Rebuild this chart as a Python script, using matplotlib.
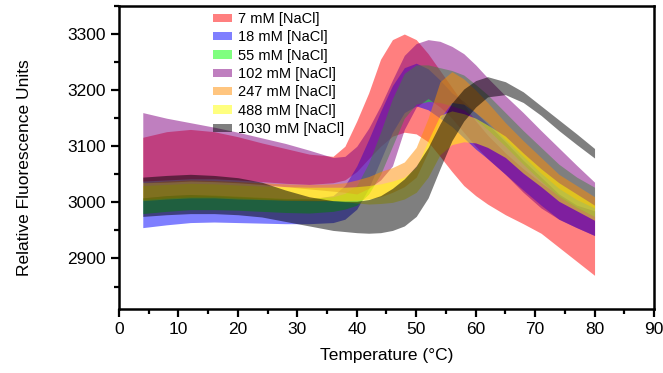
import matplotlib
matplotlib.use("Agg")
import matplotlib.pyplot as plt
from matplotlib.patches import Patch
from matplotlib.ticker import MultipleLocator

plt.rcParams['font.family'] = ['Liberation Sans', 'DejaVu Sans']

temps = [4, 8, 12, 16, 20, 24, 28, 32, 36, 38, 40, 42, 44, 46, 48, 50,
         52, 54, 56, 58, 60, 62, 65, 68, 71, 74, 77, 80]

labels = ["7 mM [NaCl]", "18 mM [NaCl]", "55 mM [NaCl]", "102 mM [NaCl]",
          "247 mM [NaCl]", "488 mM [NaCl]", "1030 mM [NaCl]"]

lower_7 = [3038, 3040, 3042, 3042, 3040, 3037, 3034, 3032, 3035, 3040, 3055, 3078,
           3100, 3118, 3125, 3122, 3108, 3082, 3055, 3030, 3012, 2997, 2978, 2962,
           2945, 2920, 2895, 2870]
upper_7 = [3116, 3126, 3130, 3126, 3117, 3106, 3096, 3086, 3082, 3100, 3145, 3195,
           3255, 3290, 3300, 3290, 3265, 3235, 3205, 3175, 3145, 3120, 3088, 3060,
           3035, 3012, 2992, 2975]

lower_18 = [2955, 2960, 2964, 2965, 2964, 2963, 2962, 2962, 2964, 2970, 2988, 3025,
            3075, 3125, 3160, 3172, 3165, 3150, 3135, 3115, 3095, 3078, 3050, 3022,
            2995, 2970, 2955, 2941]
upper_18 = [3008, 3012, 3014, 3012, 3010, 3008, 3006, 3006, 3012, 3030, 3065, 3112,
            3162, 3208, 3240, 3248, 3238, 3218, 3195, 3180, 3160, 3140, 3108, 3075,
            3045, 3015, 2995, 2985]

lower_55 = [2980, 2984, 2987, 2987, 2986, 2984, 2982, 2981, 2984, 2988, 2995, 3015,
            3050, 3100, 3150, 3175, 3180, 3178, 3172, 3165, 3148, 3130, 3100, 3068,
            3038, 3010, 2990, 2975]
upper_55 = [3008, 3012, 3014, 3013, 3011, 3009, 3007, 3007, 3010, 3016, 3030, 3070,
            3125, 3185, 3230, 3245, 3245, 3240, 3235, 3227, 3210, 3192, 3160, 3128,
            3098, 3068, 3045, 3027]

lower_102 = [3035, 3036, 3038, 3037, 3035, 3032, 3028, 3024, 3020, 3018, 3015, 3025,
             3040, 3065, 3130, 3170, 3185, 3170, 3150, 3125, 3100, 3078, 3050, 3018,
             2990, 2970, 2955, 2941]
upper_102 = [3160, 3150, 3142, 3134, 3125, 3115, 3105, 3093, 3080, 3082, 3100, 3132,
             3172, 3218, 3262, 3283, 3290, 3287, 3278, 3265, 3245, 3222, 3190, 3160,
             3128, 3097, 3066, 3036]

lower_247 = [3005, 3008, 3010, 3010, 3008, 3006, 3004, 3003, 3003, 3003, 3004, 3006,
             3010, 3018, 3028, 3045, 3090, 3150, 3178, 3175, 3160, 3143, 3112, 3082,
             3052, 3025, 3005, 2990]
upper_247 = [3035, 3038, 3040, 3039, 3037, 3035, 3033, 3032, 3033, 3035, 3040, 3046,
             3055, 3062, 3072, 3098, 3150, 3215, 3233, 3220, 3200, 3178, 3142, 3110,
             3080, 3050, 3030, 3010]

lower_488 = [3003, 3006, 3008, 3008, 3006, 3005, 3004, 3004, 3003, 3001, 2999, 2997,
             2998, 3000, 3006, 3018, 3045, 3085, 3103, 3108, 3106, 3098, 3080, 3052,
             3028, 3002, 2985, 2968]
upper_488 = [3030, 3032, 3034, 3033, 3031, 3029, 3028, 3027, 3027, 3027, 3028, 3030,
             3033, 3038, 3045, 3062, 3110, 3155, 3163, 3158, 3150, 3138, 3118, 3088,
             3060, 3035, 3015, 2995]

lower_1030 = [2975, 2978, 2980, 2980, 2978, 2974, 2966, 2958, 2950, 2948, 2946, 2945,
              2946, 2950, 2958, 2975, 3008, 3060, 3110, 3145, 3170, 3188, 3192, 3178,
              3155, 3128, 3103, 3079]
upper_1030 = [3045, 3048, 3050, 3048, 3044, 3036, 3022, 3010, 3003, 3002, 3002, 3005,
              3012, 3025, 3042, 3065, 3098, 3140, 3177, 3202, 3217, 3224, 3215, 3197,
              3172, 3147, 3122, 3096]

colors = ["red", "blue", "lime", "purple", "darkorange", "yellow", "black"]

lowers = [lower_7, lower_18, lower_55, lower_102, lower_247, lower_488, lower_1030]
uppers = [upper_7, upper_18, upper_55, upper_102, upper_247, upper_488, upper_1030]

fig = plt.figure(figsize=(6.63, 3.73), dpi=100)
ax = fig.add_axes([0.1795, 0.1716, 0.8069, 0.8124])

for lo, up, c in zip(lowers, uppers, colors):
    ax.fill_between(temps, lo, up, color=c, alpha=0.5, linewidth=0)

ax.set_xlim(0, 90)
ax.set_ylim(2810, 3350)
ax.xaxis.set_major_locator(MultipleLocator(10))
ax.xaxis.set_minor_locator(MultipleLocator(5))
ax.yaxis.set_minor_locator(MultipleLocator(50))
ax.set_yticks([2900, 3000, 3100, 3200, 3300])
ax.tick_params(which='major', direction='out', length=6, width=1.6, labelsize=12.5)
ax.tick_params(which='minor', direction='out', length=3.5, width=1.6)
for s in ax.spines.values():
    s.set_linewidth(1.8)

ax.set_xlabel("Temperature (°C)", fontsize=12.5, labelpad=8)
ax.set_ylabel("Relative Fluorescence Units", fontsize=12.5)
ax.yaxis.set_label_coords(-0.162, 0.468)

handles = [Patch(facecolor=c, alpha=0.5, edgecolor='none') for c in colors]
ax.legend(handles, labels, loc='upper left', bbox_to_anchor=(0.17, 0.99),
          frameon=False, fontsize=10.5, labelspacing=0.3, handlelength=1.3,
          handleheight=0.5, handletextpad=0.4, borderpad=0.2, borderaxespad=0)

fig.savefig("out.png", dpi=100)
